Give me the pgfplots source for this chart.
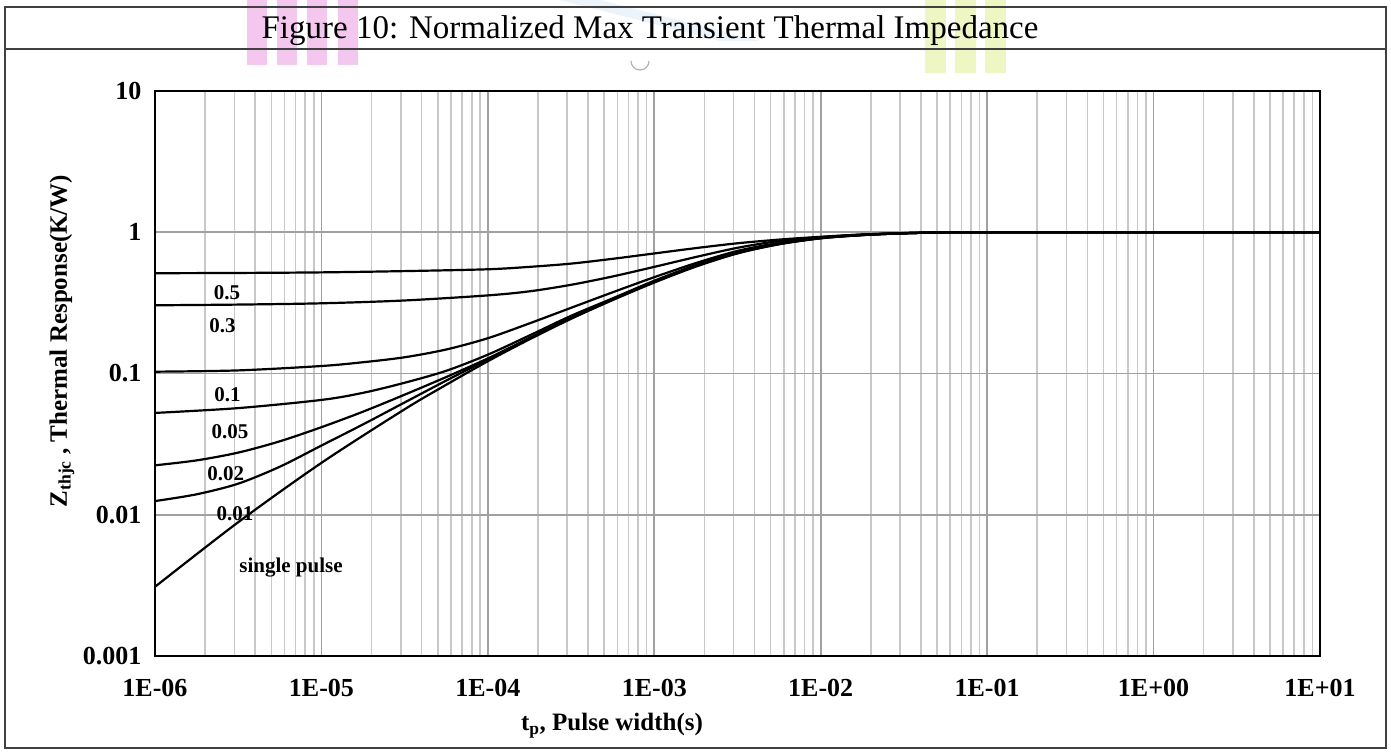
\documentclass[border=0pt]{standalone}
\usepackage{fontspec}
\setmainfont{Liberation Serif}
\usepackage{pgfplots}
\pgfplotsset{compat=1.18}

\definecolor{minorgrid}{RGB}{200,200,200}
\definecolor{majorgrid}{RGB}{160,160,160}
\definecolor{wmpink}{RGB}{244,200,238}
\definecolor{wmgreen}{RGB}{238,246,196}
\definecolor{wmblue}{RGB}{226,238,250}

\begin{document}
\begin{tikzpicture}[x=1pt,y=1pt]
\useasboundingbox (0,0) rectangle (1391,753);

% faint decorations behind the header
\foreach \xa in {247,277,307,338}
  \fill[wmpink] (\xa,688) rectangle (\xa+20,753);
\foreach \xa in {925,955,985}
  \fill[wmgreen] (\xa,680) rectangle (\xa+21,753);
\fill[wmblue,opacity=0.7] (560,753) -- (600,753) -- (760,712) -- (720,712) -- cycle;
\draw[gray!60,line width=1.2pt] (631,692) arc (180:360:9);

% frame and header
\draw[line width=1.5pt,black!75] (5,5) rectangle (1386,746);
\draw[line width=1.5pt,black!75] (5,704) -- (1386,704);
\node[font=\fontsize{33}{38}\selectfont] at (650,722) {Figure 10: Normalized Max Transient Thermal Impedance};

\begin{axis}[
  at={(155pt,97pt)}, anchor=south west,
  width=1165pt, height=565pt, scale only axis,
  xmode=log, ymode=log,
  xmin=1e-6, xmax=10, ymin=0.001, ymax=10,
  xtick={1e-6,1e-5,1e-4,1e-3,1e-2,1e-1,1e0,1e1},
  xticklabels={1E-06,1E-05,1E-04,1E-03,1E-02,1E-01,1E+00,1E+01},
  minor xtick={2e-6,3e-6,4e-6,5e-6,6e-6,7e-6,8e-6,9e-6,
               2e-5,3e-5,4e-5,5e-5,6e-5,7e-5,8e-5,9e-5,
               2e-4,3e-4,4e-4,5e-4,6e-4,7e-4,8e-4,9e-4,
               2e-3,3e-3,4e-3,5e-3,6e-3,7e-3,8e-3,9e-3,
               2e-2,3e-2,4e-2,5e-2,6e-2,7e-2,8e-2,9e-2,
               2e-1,3e-1,4e-1,5e-1,6e-1,7e-1,8e-1,9e-1,
               2,3,4,5,6,7,8,9},
  ytick={0.001,0.01,0.1,1,10},
  yticklabels={0.001,0.01,0.1,1,10},
  minor ytick={},
  xmajorgrids, xminorgrids, ymajorgrids,
  major tick length=0pt, minor tick length=0pt,
  minor grid style={minorgrid, line width=1.6pt},
  major grid style={majorgrid, line width=1.6pt},
  axis line style={black, line width=2pt},
  xticklabel style={font=\fontsize{26}{30}\selectfont\bfseries, yshift=-20pt},
  yticklabel style={font=\fontsize{26}{30}\selectfont\bfseries, xshift=-10pt},
  curve/.style={black, solid, line width=2.2pt, smooth, mark=none},
]
% D = 0.5
\addplot[curve] coordinates {(1e-6,0.5129) (3.16e-6,0.5152) (1e-5,0.5200) (3.16e-5,0.5309)
  (1e-4,0.5470) (1.78e-4,0.5689) (3.16e-4,0.5998) (5.62e-4,0.6486) (1e-3,0.7079)
  (1.78e-3,0.7727) (3.16e-3,0.8356) (5.62e-3,0.8872) (1e-2,0.9290) (1.78e-2,0.9638)
  (3.16e-2,0.984) (5.62e-2,0.998) (0.1,1) (10,1)};
% D = 0.3
\addplot[curve] coordinates {(1e-6,0.3041) (3.16e-6,0.3076) (1e-5,0.3141) (3.16e-5,0.3289)
  (1e-4,0.3573) (1.78e-4,0.3819) (3.16e-4,0.4246) (5.62e-4,0.4864) (1e-3,0.5689)
  (1.78e-3,0.6683) (3.16e-3,0.7762) (5.62e-3,0.8670) (1e-2,0.9226) (1.78e-2,0.9638)
  (3.16e-2,0.9863) (5.62e-2,0.998) (0.1,1) (10,1)};
% D = 0.1
\addplot[curve] coordinates {(1e-6,0.1030) (3.16e-6,0.1052) (1e-5,0.1130) (1.78e-5,0.1202)
  (3.16e-5,0.1303) (5.62e-5,0.1479) (1e-4,0.1778) (1.78e-4,0.2265) (3.16e-4,0.2917)
  (5.62e-4,0.3758) (1e-3,0.4808) (1.78e-3,0.6053) (3.16e-3,0.7379) (5.62e-3,0.8414)
  (1e-2,0.9162) (1.78e-2,0.959) (3.16e-2,0.984) (5.62e-2,0.998) (0.1,1) (10,1)};
% D = 0.05
\addplot[curve] coordinates {(1e-6,0.0526) (3.16e-6,0.05689) (1e-5,0.06501) (1.78e-5,0.0730)
  (3.16e-5,0.0860) (5.62e-5,0.1045) (1e-4,0.136) (1.78e-4,0.186) (3.16e-4,0.256)
  (5.62e-4,0.3404) (1e-3,0.4539) (1.78e-3,0.5861) (3.16e-3,0.7244) (5.62e-3,0.8318)
  (1e-2,0.912) (1.78e-2,0.957) (3.16e-2,0.984) (5.62e-2,0.998) (0.1,1) (10,1)};
% D = 0.02
\addplot[curve] coordinates {(1e-6,0.02239) (1.78e-6,0.02427) (3.16e-6,0.02754) (5.62e-6,0.03311)
  (1e-5,0.04169) (1.78e-5,0.0537) (3.16e-5,0.0708) (5.62e-5,0.0944) (1e-4,0.1279)
  (1.78e-4,0.1786) (3.16e-4,0.2483) (5.62e-4,0.3357) (1e-3,0.4477) (1.78e-3,0.5794)
  (3.16e-3,0.7178) (5.62e-3,0.8279) (1e-2,0.9099) (1.78e-2,0.956) (3.16e-2,0.984)
  (5.62e-2,0.998) (0.1,1) (10,1)};
% D = 0.01
\addplot[curve] coordinates {(1e-6,0.0125) (1.78e-6,0.01396) (3.16e-6,0.0166) (5.62e-6,0.02188)
  (1e-5,0.0309) (1.78e-5,0.04365) (3.16e-5,0.06237) (5.62e-5,0.0891) (1e-4,0.1259)
  (1.78e-4,0.1770) (3.16e-4,0.2460) (5.62e-4,0.3334) (1e-3,0.4446) (1.78e-3,0.5754)
  (3.16e-3,0.7129) (5.62e-3,0.8241) (1e-2,0.9078) (1.78e-2,0.955) (3.16e-2,0.984)
  (5.62e-2,0.998) (0.1,1) (10,1)};
% single pulse
\addplot[curve] coordinates {(1e-6,0.00309) (3.16e-6,0.00885) (1e-5,0.0233) (3.16e-5,0.0558)
  (5.62e-5,0.0832) (1e-4,0.1222) (1.78e-4,0.1746) (3.16e-4,0.2438) (5.62e-4,0.3311)
  (1e-3,0.4406) (1.78e-3,0.5715) (3.16e-3,0.7079) (5.62e-3,0.8222) (1e-2,0.9057)
  (1.78e-2,0.955) (3.16e-2,0.984) (5.62e-2,0.998) (0.1,1) (10,1)};
\end{axis}

% curve labels
\begin{scope}[every node/.style={font=\fontsize{21}{24}\selectfont\bfseries, anchor=base, inner sep=0pt}]
  \node at (227,453) {0.5};
  \node at (222.5,420) {0.3};
  \node at (227.5,351.3) {0.1};
  \node at (230,314.7) {0.05};
  \node at (225.8,273) {0.02};
  \node at (235,233) {0.01};
  \node at (291,180.3) {single pulse};
\end{scope}

% axis titles
\node[font=\fontsize{25}{30}\selectfont\bfseries, rotate=90] at (62,412)
  {Z\textsubscript{thjc} , Thermal Response(K/W)};
\node[font=\fontsize{25}{30}\selectfont\bfseries] at (612,27)
  {t\textsubscript{p}, Pulse width(s)};
\end{tikzpicture}
\end{document}
